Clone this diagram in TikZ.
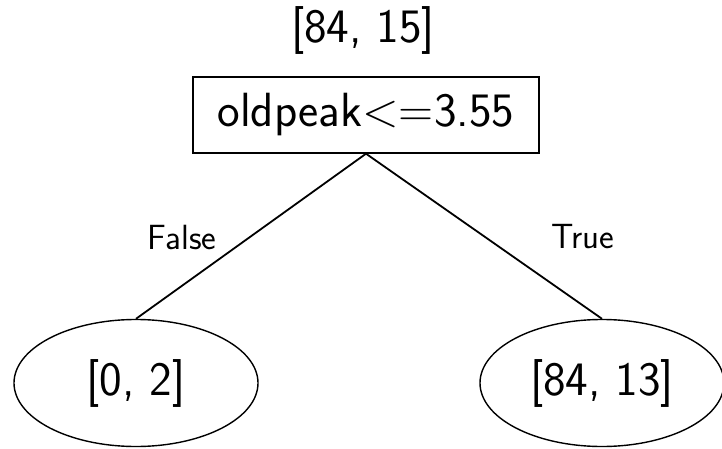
\documentclass[tikz,border=0pt]{standalone}
\usepackage{fontspec}
\usetikzlibrary{shapes.geometric}
\begin{document}
\begin{tikzpicture}[x=1pt,y=-1pt,
  big/.style={font=\sffamily\fontsize{48}{52}\selectfont},
  lab/.style={font=\sffamily\fontsize{35}{40}\selectfont},
  splitbox/.style={big,draw,line width=1.4pt,minimum width=346pt,minimum height=76pt,inner sep=0pt},
  leafnode/.style={big,draw,ellipse,line width=1.4pt,minimum width=244pt,minimum height=127pt,inner sep=0pt},
  edge/.style={line width=1.8pt}]
\useasboundingbox (0,0) rectangle (722,449);
\node[big] (cnt) at (363,31) {[84, 15]};
\node[splitbox] (root) at (366,115) {oldpeak<=3.55};
\node[leafnode] (left) at (136,383) {[0, 2]};
\node[leafnode] (right) at (602,383) {[84, 13]};
\draw[edge] (root.south) -- (left.north);
\draw[edge] (root.south) -- (right.north);
\node[lab] (f) at (182,237) {False};
\node[lab] (t) at (583,237) {True};
\end{tikzpicture}
\end{document}
